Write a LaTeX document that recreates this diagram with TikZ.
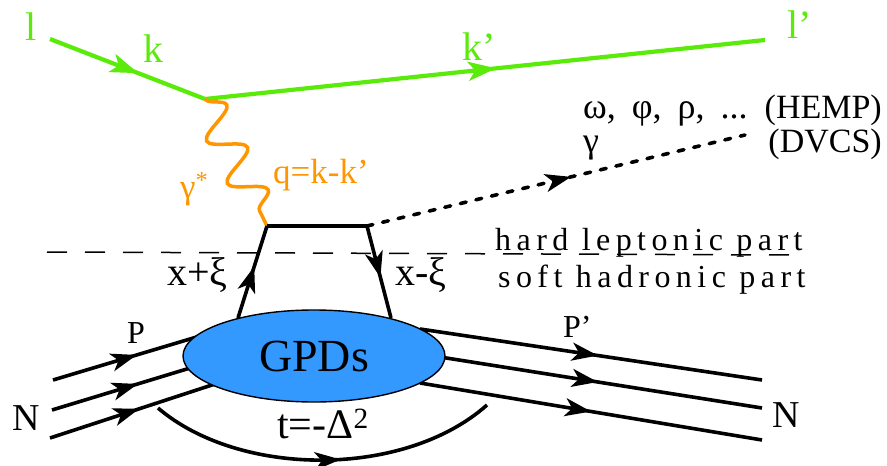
\documentclass[tikz,border=0pt]{standalone}
\usepackage{fontspec}
\setmainfont{Liberation Serif}
\newfontfamily\spacedfont[LetterSpace=17]{Liberation Serif}
\usetikzlibrary{arrows.meta,decorations.markings,decorations.pathmorphing,shapes.geometric}
\definecolor{lgreen}{RGB}{90,235,10}
\definecolor{phorange}{RGB}{255,150,0}
\definecolor{gblue}{RGB}{51,153,255}
\tikzset{
  lep/.style={draw=lgreen, line width=4.2pt},
  ferm/.style={line width=3.6pt},
  tipat/.style={postaction={decorate}, decoration={markings,
     mark=at position #1 with {\arrow{Stealth[length=26pt,width=18pt,inset=7pt]}}}},
  gtipat/.style={postaction={decorate}, decoration={markings,
     mark=at position #1 with {\arrow[lgreen]{Stealth[length=28pt,width=19pt,inset=7pt]}}}},
  lbl/.style={anchor=base west, inner sep=0pt, font=\fontsize{40}{44}\selectfont},
  glbl/.style={lbl, text=lgreen},
  olbl/.style={lbl, text=phorange, font=\fontsize{35}{38}\selectfont},
  mlbl/.style={lbl, font=\fontsize{34}{38}\selectfont},
  sptxt/.style={lbl, font=\spacedfont\fontsize{32}{36}\selectfont},
}
\begin{document}
\begin{tikzpicture}[x=1pt,y=-1pt]
\useasboundingbox (0,0) rectangle (887,466);
% coordinates
\coordinate (lin) at (50,39);
\coordinate (V) at (205,99);
\coordinate (lout) at (765,40);
\coordinate (TL) at (267,226);
\coordinate (TR) at (367,226);
\coordinate (BL) at (238,318);
\coordinate (BR) at (391,318);
\coordinate (gam) at (745,135);
\coordinate (dl) at (47,252);
\coordinate (dr) at (792,255);
\coordinate (i1) at (53,380);   \coordinate (e1) at (200,336);
\coordinate (i2) at (52,410);   \coordinate (e2) at (200,365);
\coordinate (i3) at (50,438);   \coordinate (e3) at (215,384);
\coordinate (f1) at (420,329);  \coordinate (o1) at (762,380);
\coordinate (f2) at (440,357);  \coordinate (o2) at (762,408);
\coordinate (f3) at (420,383);  \coordinate (o3) at (762,440);
\coordinate (a1) at (158,408);  \coordinate (a2) at (487,405);

% hard/soft separation
\draw[line width=1.5pt, dash pattern=on 20pt off 18pt] (dl) -- (dr);
\node[sptxt] (hard) at (495,250) {hard leptonic part};
\node[sptxt] (soft) at (498,287) {soft hadronic part};

% leptons
\draw[lep, gtipat=0.57] (lin) -- (V);
\draw[lep, gtipat=0.52] (V) -- (lout);
\node[glbl] (l) at (25,40) {l};
\node[glbl] (k) at (143,62) {k};
\node[glbl] (kp) at (462,60) {k’};
\node[glbl] (lp) at (787,38) {l’};

% virtual photon
\draw[draw=phorange, line width=3.5pt, decorate,
      decoration={snake, segment length=47.3pt, amplitude=17pt}] (V) -- (TL);
\node[olbl] (gs) at (180,198) {γ\textsuperscript{*}};
\node[olbl] (q) at (273,183) {q=k-k’};

% quark lines
\draw[ferm] (TL) -- (TR);
\draw[ferm, tipat=0.56] (BL) -- (TL);
\draw[ferm, tipat=0.56] (TR) -- (BR);
\node[lbl] (xp) at (167,285) {x+ξ};
\node[lbl] (xm) at (395,285) {x-ξ};

% outgoing photon / meson
\draw[ferm, line cap=round, dash pattern=on 6pt off 10pt, tipat=0.54] (TR) -- (gam);
\node[lbl, font=\fontsize{36}{40}\selectfont] (greek) at (583,118) {\spaceskip=16pt ω, φ, ρ, ...};
\node[mlbl, anchor=base east] (hemp) at (882,118) {(HEMP)};
\node[lbl, font=\fontsize{36}{40}\selectfont] (gm) at (583,152) {γ};
\node[mlbl, anchor=base east] (dvcs) at (882,152) {(DVCS)};

% nucleon lines
\draw[ferm, tipat=0.57] (i1) -- (e1);
\draw[ferm, tipat=0.58] (i2) -- (e2);
\draw[ferm, tipat=0.54] (i3) -- (e3);
\draw[ferm, tipat=0.52] (f1) -- (o1);
\draw[ferm, tipat=0.49] (f2) -- (o2);
\draw[ferm, tipat=0.50] (f3) -- (o3);

\node[ellipse, draw, line width=1.4pt, fill=gblue, minimum width=262pt, minimum height=92pt,
      inner sep=0pt, font=\fontsize{46}{50}\selectfont] (gpd) at (314,356) {GPDs};

\node[lbl, font=\fontsize{32}{36}\selectfont] (P) at (127,343) {P};
\node[lbl, font=\fontsize{32}{36}\selectfont] (Pp) at (563,337) {P’};
\node[lbl, font=\fontsize{38}{42}\selectfont] (Nl) at (12,430) {N};
\node[lbl, font=\fontsize{38}{42}\selectfont] (Nr) at (772,427) {N};

% momentum transfer
\draw[ferm, tipat=0.55] (a1) .. controls (240,478) and (405,478) .. (a2);
\node[lbl, font=\fontsize{42}{46}\selectfont] (t) at (277,438) {t=-Δ\textsuperscript{2}};
\end{tikzpicture}
\end{document}
